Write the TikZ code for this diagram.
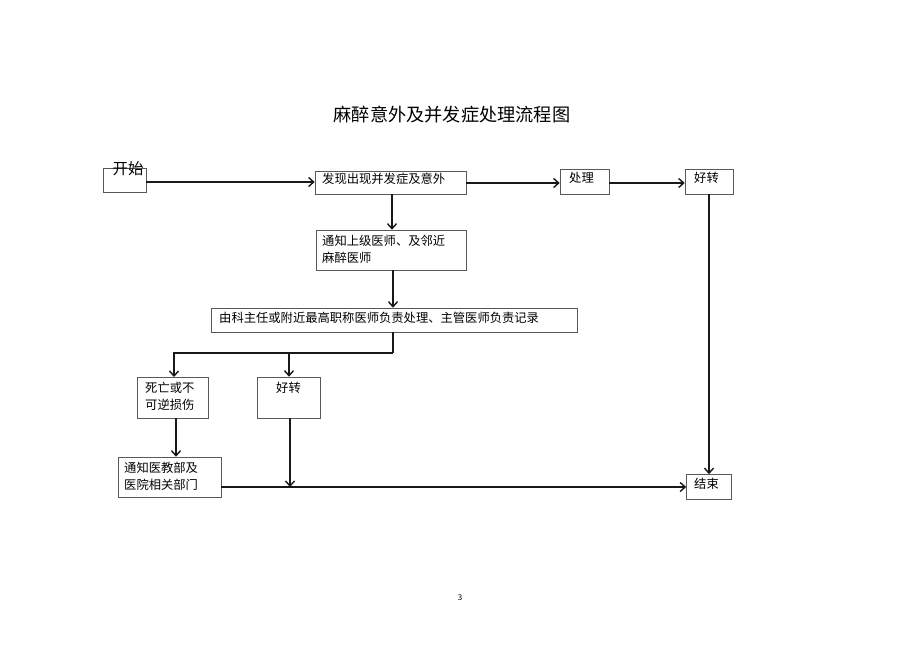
\documentclass[tikz,border=0pt]{standalone}
\usepackage{fontspec}
\setmainfont{Noto Sans CJK SC}
\usetikzlibrary{arrows.meta,calc}
\begin{document}
\begin{tikzpicture}[x=1pt,y=-1pt,
  box/.style={draw=black!65,line width=0.6pt,inner sep=0pt,rectangle},
  txt/.style={inner sep=0pt,anchor=north west,align=left,font=\fontsize{12.3}{17}\selectfont},
  conn/.style={line width=1.5pt,draw=black!90},
  arr/.style={conn,-{Straight Barb[length=5pt,width=9pt,line width=1.4pt]}}]
\useasboundingbox[fill=white] (0,0) rectangle (920,651);
% title
\node[inner sep=0pt,font=\fontsize{18.2}{20}\selectfont] (title) at (452,115) {麻醉意外及并发症处理流程图};
% boxes
\node[box,minimum width=43,minimum height=24] (start) at (124.5,180) {};
\node[inner sep=0pt,font=\fontsize{15.5}{18}\selectfont] (starttxt) at (128,169) {开始};
\node[box,minimum width=151,minimum height=23] (b1) at (390.5,182.5) {};
\node[txt] (b1t) at (322,173) {发现出现并发症及意外};
\node[box,minimum width=49,minimum height=25] (cl) at (584.5,181.5) {};
\node[txt] (clt) at (569,172) {处理};
\node[box,minimum width=48,minimum height=25] (hz1) at (709,181.5) {};
\node[txt] (hz1t) at (694,172) {好转};
\node[box,minimum width=150,minimum height=40] (b2) at (391,250) {};
\node[txt] (b2t) at (322,235) {通知上级医师、及邻近\\麻醉医师};
\node[box,minimum width=366,minimum height=24] (b3) at (394,320) {};
\node[txt] (b3t) at (219,312) {由科主任或附近最高职称医师负责处理、主管医师负责记录};
\node[box,minimum width=71,minimum height=41] (dead) at (172.5,397.5) {};
\node[txt] (deadt) at (145,382) {死亡或不\\可逆损伤};
\node[box,minimum width=63,minimum height=41] (hz2) at (288.5,397.5) {};
\node[txt] (hz2t) at (276,382) {好转};
\node[box,minimum width=103,minimum height=40] (nt) at (169.5,477) {};
\node[txt] (ntt) at (124,462) {通知医教部及\\医院相关部门};
\node[box,minimum width=45,minimum height=25] (end) at (709,487) {};
\node[txt] (endt) at (694,478) {结束};
\node[inner sep=0pt,font=\fontsize{8}{9}\selectfont] (pg) at (460,598) {3};
% connectors
\draw[arr] (start.east |- 0,182) -- (b1.west |- 0,182);
\draw[arr] (b1.east |- 0,183) -- (cl.west |- 0,183);
\draw[arr] (cl.east |- 0,183) -- (hz1.west |- 0,183);
\draw[arr] (hz1.south) -- (end.north);
\draw[arr] (392,194) -- (b2.north -| 392,0);
\draw[arr] (b2.south -| 393,0) -- (b3.north -| 393,0);
\coordinate (sp) at (393,353);
\draw[conn] (b3.south -| 393,0) -- (sp);
\draw[arr] (sp) -| (174,377);
\draw[arr] (289,353) -- (hz2.north -| 289,0);
\draw[arr] (dead.south -| 176,0) -- (nt.north -| 176,0);
\draw[arr] (hz2.south -| 290,0) -- (end.west -| 290,0);
\draw[arr] (nt.east |- end.west) -- (end.west);
\end{tikzpicture}
\end{document}
